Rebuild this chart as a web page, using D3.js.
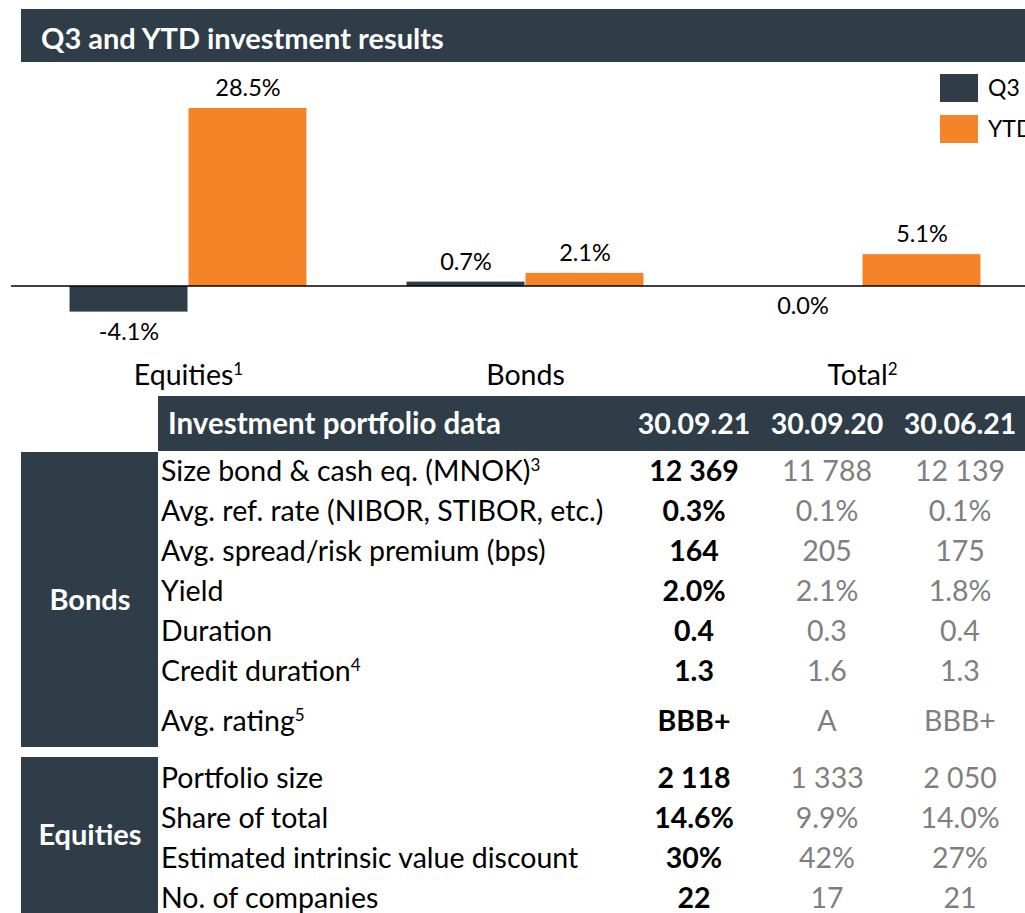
<!DOCTYPE html>
<html>
<head>
<meta charset="utf-8">
<script src="https://cdn.jsdelivr.net/npm/d3@7"></script>
<style>
  body { margin: 0; background: #fff; }
  svg { display: block; font-family: Lato, "Open Sans", sans-serif; }
</style>
</head>
<body>
<svg id="chart"></svg>
<script>
//chart data
const categories = ["Equities", "Bonds", "Total"];
const categorySup = ["1", "", "2"];
const series = ["Q3", "YTD"];
const q3Values = [-4.1, 0.7, 0.0];
const ytdValues = [28.5, 2.1, 5.1];

//table data
const colHeaders = ["30.09.21", "30.09.20", "30.06.21"];
const bondLabels = ["Size bond & cash eq. (MNOK)", "Avg. ref. rate (NIBOR, STIBOR, etc.)", "Avg. spread/risk premium (bps)", "Yield", "Duration", "Credit duration", "Avg. rating"];
const bondSup = ["3", "", "", "", "", "4", "5"];
const bondCur = ["12 369", "0.3%", "164", "2.0%", "0.4", "1.3", "BBB+"];
const bondPrevYear = ["11 788", "0.1%", "205", "2.1%", "0.3", "1.6", "A"];
const bondPrevQtr = ["12 139", "0.1%", "175", "1.8%", "0.4", "1.3", "BBB+"];
const equityLabels = ["Portfolio size", "Share of total", "Estimated intrinsic value discount", "No. of companies"];
const equityCur = ["2 118", "14.6%", "30%", "22"];
const equityPrevYear = ["1 333", "9.9%", "42%", "17"];
const equityPrevQtr = ["2 050", "14.0%", "27%", "21"];

const w = 1025, h = 913;
const dark = "#2e3d48", orange = "#f58428", grey = "#7f7f7f";
const colors = { Q3: dark, YTD: orange };
const tableFont = 28.5;

const svg = d3.select("#chart").attr("width", w).attr("height", h);

//title bar
svg.append("rect").attr("x", 21).attr("y", 9).attr("width", w - 21).attr("height", 53).attr("fill", dark);
svg.append("text").attr("x", 41).attr("y", 49)
    .attr("fill", "#fff").attr("font-weight", "bold").attr("font-size", 29)
    .text("Q3 and YTD investment results");

//scales
const x0 = d3.scaleBand().domain(categories).range([20, 1031]).paddingInner(0.294).paddingOuter(0.147);
const x1 = d3.scaleBand().domain(series).range([0, x0.bandwidth()]);
const y = d3.scaleLinear().domain([0, 28.5]).range([286, 108]);

const barData = categories.flatMap((c, i) => [
    { cat: c, key: "Q3", value: q3Values[i] },
    { cat: c, key: "YTD", value: ytdValues[i] }
]);

const bars = svg.append("g");
bars.selectAll("rect").data(barData).join("rect")
    .attr("x", d => x0(d.cat) + x1(d.key))
    .attr("width", x1.bandwidth() - 1)
    .attr("y", d => y(Math.max(0, d.value)))
    .attr("height", d => Math.abs(y(d.value) - y(0)))
    .attr("fill", d => colors[d.key]);

//zero line
svg.append("line").attr("x1", 11).attr("x2", w).attr("y1", y(0)).attr("y2", y(0))
    .attr("stroke", "#000").attr("stroke-width", 1.5);

//value labels
bars.selectAll("text").data(barData).join("text")
    .attr("x", d => x0(d.cat) + x1(d.key) + x1.bandwidth() / 2)
    .attr("y", d => d.value > 0 ? y(d.value) - 12 : y(Math.min(0, d.value)) + 28)
    .attr("text-anchor", "middle").attr("font-size", 23.5).attr("fill", "#000")
    .text(d => d.value.toFixed(1) + "%");

//category labels
const catText = svg.append("g").selectAll("text").data(categories).join("text")
    .attr("x", d => x0(d) + x0.bandwidth() / 2)
    .attr("y", 385).attr("text-anchor", "middle").attr("font-size", 28.5);
catText.append("tspan").text(d => d);
catText.append("tspan").attr("baseline-shift", "super").attr("font-size", 17)
    .text((d, i) => categorySup[i]);

//legend
const legend = svg.append("g").selectAll("g").data(series).join("g")
    .attr("transform", (d, i) => `translate(940,${74 + i * 41})`);
legend.append("rect").attr("width", 38).attr("height", 28).attr("fill", d => colors[d]);
legend.append("text").attr("x", 48).attr("y", 22).attr("font-size", 23).text(d => d);

//table
const colX = [694, 827, 960];
svg.append("rect").attr("x", 158).attr("y", 396).attr("width", w - 158).attr("height", 55).attr("fill", dark);
svg.append("text").attr("x", 168).attr("y", 434).attr("fill", "#fff")
    .attr("font-weight", "bold").attr("font-size", 29.5).text("Investment portfolio data");
svg.append("g").selectAll("text").data(colHeaders).join("text")
    .attr("x", (d, i) => colX[i]).attr("y", 434).attr("text-anchor", "middle")
    .attr("fill", "#fff").attr("font-weight", "bold").attr("font-size", tableFont).text(d => d);

function drawGroup(name, labels, sups, cur, prevY, prevQ, top, bottom, firstY, lastGap) {
    const g = svg.append("g");
    g.append("rect").attr("x", 21).attr("y", top).attr("width", 137).attr("height", bottom - top).attr("fill", dark);
    g.append("text").attr("x", 90).attr("y", (top + bottom) / 2 + 10).attr("text-anchor", "middle")
        .attr("fill", "#fff").attr("font-weight", "bold").attr("font-size", 29).text(name);
    const rowY = i => firstY + i * 40 + (i === labels.length - 1 ? lastGap : 0);
    const rows = g.selectAll("g.row").data(labels).join("g").attr("class", "row")
        .attr("transform", (d, i) => `translate(0,${rowY(i)})`);
    const lab = rows.append("text").attr("x", 161).attr("y", 10).attr("font-size", tableFont);
    lab.append("tspan").text(d => d);
    lab.append("tspan").attr("baseline-shift", "super").attr("font-size", 17).text((d, i) => sups[i]);
    rows.append("text").attr("x", colX[0]).attr("y", 10).attr("text-anchor", "middle")
        .attr("font-size", tableFont).attr("font-weight", "bold").text((d, i) => cur[i]);
    rows.append("text").attr("x", colX[1]).attr("y", 10).attr("text-anchor", "middle")
        .attr("font-size", tableFont).attr("fill", grey).text((d, i) => prevY[i]);
    rows.append("text").attr("x", colX[2]).attr("y", 10).attr("text-anchor", "middle")
        .attr("font-size", tableFont).attr("fill", grey).text((d, i) => prevQ[i]);
}

drawGroup("Bonds", bondLabels, bondSup, bondCur, bondPrevYear, bondPrevQtr, 452, 747, 471, 10);
drawGroup("Equities", equityLabels, equityLabels.map(() => ""), equityCur, equityPrevYear, equityPrevQtr, 757, 913, 778, 0);
</script>
</body>
</html>
